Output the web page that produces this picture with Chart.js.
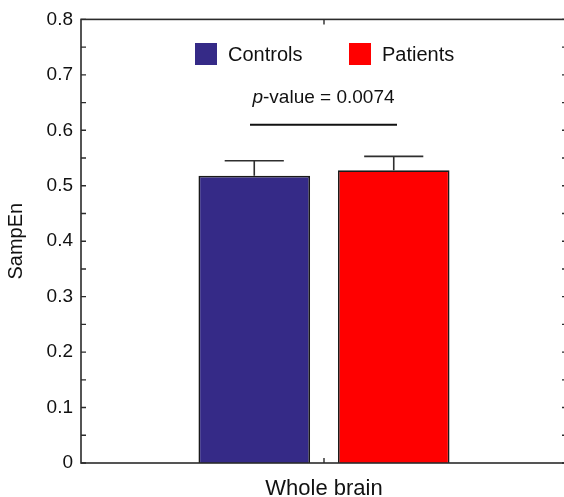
<!DOCTYPE html>
<html>
<head>
<meta charset="utf-8">
<script src="https://cdn.jsdelivr.net/npm/chart.js@4/dist/chart.umd.min.js"></script>
<style>
  html, body { margin: 0; padding: 0; background: #fff; overflow: hidden; }
  #wrap { width: 564px; height: 497px; overflow: hidden; }
  canvas { display: block; }
</style>
</head>
<body>
<div id="wrap"><canvas id="c" width="568" height="497"></canvas></div>
<script>
// Sample entropy of the whole brain, group means with error bars
const categories = ['Whole brain'];
const groups = ['Controls', 'Patients'];
const controlsMean = [0.518];
const controlsErr = [0.027];
const patientsMean = [0.528];
const patientsErr = [0.025];
const groupColors = ['#352a87', '#ff0000'];
const pValueText = '0.0074';
const pValueLineLevel = 0.61;
const yTicks = [0, 0.1, 0.2, 0.3, 0.4, 0.5, 0.6, 0.7, 0.8];

const FONT = '"Liberation Sans", Arial, Helvetica, sans-serif';
const INK = '#111';
const AXIS = '#2b2b2b';

const errors = [controlsErr, patientsErr];

// Frame with inward ticks, error bars, in-plot legend and significance marker
const decorations = {
  id: 'decorations',
  afterDatasetsDraw(chart) {
    const { ctx, chartArea: a, scales } = chart;
    const y = scales.y, x = scales.x;
    ctx.save();

    // error bars
    ctx.strokeStyle = '#2e2e2e';
    ctx.lineWidth = 1.6;
    chart.data.datasets.forEach((ds, di) => {
      const meta = chart.getDatasetMeta(di);
      meta.data.forEach((bar, i) => {
        const top = y.getPixelForValue(ds.data[i] + errors[di][i]);
        const half = bar.width * 0.265;
        ctx.beginPath();
        ctx.moveTo(bar.x, bar.y);
        ctx.lineTo(bar.x, top);
        ctx.moveTo(bar.x - half, top);
        ctx.lineTo(bar.x + half, top);
        ctx.stroke();
      });
    });

    // frame
    ctx.strokeStyle = AXIS;
    ctx.lineWidth = 1.6;
    ctx.strokeRect(a.left, a.top, a.right - a.left, a.bottom - a.top);

    // inward ticks every 0.05 on left and right
    ctx.lineWidth = 1.4;
    const tl = 5;
    for (let k = 0; k <= 16; k++) {
      const py = y.getPixelForValue(k * 0.05);
      ctx.beginPath();
      ctx.moveTo(a.left, py); ctx.lineTo(a.left + tl, py);
      ctx.moveTo(a.right, py); ctx.lineTo(a.right - tl, py);
      ctx.stroke();
    }
    // category ticks on bottom and top
    categories.forEach((c, i) => {
      const px = x.getPixelForValue(i);
      ctx.beginPath();
      ctx.moveTo(px, a.bottom); ctx.lineTo(px, a.bottom - tl);
      ctx.moveTo(px, a.top); ctx.lineTo(px, a.top + tl);
      ctx.stroke();
    });

    // legend inside the plot
    ctx.font = '20px ' + FONT;
    ctx.textBaseline = 'middle';
    ctx.textAlign = 'left';
    const legY = 54;
    const legX = [195, 349];
    groups.forEach((g, gi) => {
      ctx.fillStyle = groupColors[gi];
      ctx.fillRect(legX[gi], legY - 11, 22, 22);
      ctx.fillStyle = INK;
      ctx.fillText(g, legX[gi] + 33, legY + 1);
    });

    // significance line and label
    const lineY = y.getPixelForValue(pValueLineLevel);
    ctx.strokeStyle = '#111';
    ctx.lineWidth = 2;
    ctx.beginPath();
    ctx.moveTo(250, lineY);
    ctx.lineTo(397, lineY);
    ctx.stroke();

    ctx.fillStyle = INK;
    ctx.textBaseline = 'alphabetic';
    ctx.font = 'italic 19px ' + FONT;
    const pw = ctx.measureText('p').width;
    const rest = '-value = ' + pValueText;
    ctx.font = '19px ' + FONT;
    const rw = ctx.measureText(rest).width;
    const startX = 323.5 - (pw + rw) / 2;
    ctx.font = 'italic 19px ' + FONT;
    ctx.fillText('p', startX, 102.5);
    ctx.font = '19px ' + FONT;
    ctx.fillText(rest, startX + pw, 102.5);

    ctx.restore();
  }
};

new Chart(document.getElementById('c'), {
  type: 'bar',
  data: {
    labels: categories,
    datasets: [
      { label: groups[0], data: controlsMean, backgroundColor: groupColors[0], borderColor: '#1a1a1a', borderWidth: 1.7 },
      { label: groups[1], data: patientsMean, backgroundColor: groupColors[1], borderColor: '#1a1a1a', borderWidth: 1.7 }
    ]
  },
  options: {
    responsive: false,
    animation: false,
    devicePixelRatio: 1,
    layout: { padding: { left: 0, top: 18.5, right: 1, bottom: 0 } },
    datasets: { bar: { categoryPercentage: 0.574, barPercentage: 0.8 } },
    plugins: { legend: { display: false }, tooltip: { enabled: false } },
    scales: {
      x: {
        grid: { display: false, drawTicks: false },
        border: { display: false },
        ticks: { color: INK, font: { family: FONT, size: 22 }, padding: 13 },
        afterFit(s) { s.height = 34; }
      },
      y: {
        min: 0, max: 0.8,
        grid: { display: false, drawTicks: false },
        border: { display: false },
        afterBuildTicks(s) { s.ticks = yTicks.map(v => ({ value: v })); },
        ticks: {
          color: INK, font: { family: FONT, size: 19 }, padding: 8,
          callback: v => String(+v.toFixed(2))
        },
        title: { display: true, text: 'SampEn', color: INK, font: { family: FONT, size: 20 }, padding: { top: 4, bottom: 0 } },
        afterFit(s) { s.width = 81; }
      }
    }
  },
  plugins: [decorations]
});
</script>
</body>
</html>
